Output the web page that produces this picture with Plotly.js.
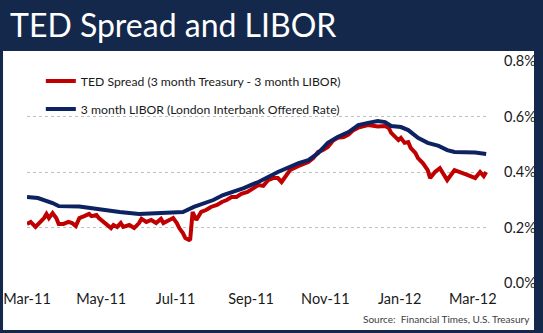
<!DOCTYPE html>
<html>
<head>
<meta charset="utf-8">
<script src="https://cdn.plot.ly/plotly-3.0.1.min.js"></script>
<style>html,body{margin:0;padding:0;background:#14284b;}#chart{width:543px;height:333px;}</style>
</head>
<body>
<div id="chart"></div>
<script>
const tedDates = ["2011-03-01","2011-03-04","2011-03-08","2011-03-12","2011-03-15","2011-03-17","2011-03-19","2011-03-22","2011-03-25","2011-03-27","2011-03-31","2011-04-04","2011-04-07","2011-04-10","2011-04-13","2011-04-17","2011-04-21","2011-04-23","2011-04-27","2011-04-29","2011-05-03","2011-05-06","2011-05-09","2011-05-11","2011-05-14","2011-05-17","2011-05-19","2011-05-24","2011-05-28","2011-06-01","2011-06-03","2011-06-07","2011-06-11","2011-06-15","2011-06-19","2011-06-21","2011-06-25","2011-06-29","2011-07-02","2011-07-04","2011-07-07","2011-07-09","2011-07-12","2011-07-13","2011-07-15","2011-07-18","2011-07-22","2011-07-26","2011-07-30","2011-08-04","2011-08-08","2011-08-12","2011-08-16","2011-08-20","2011-08-24","2011-08-29","2011-09-03","2011-09-07","2011-09-11","2011-09-15","2011-09-19","2011-09-23","2011-09-26","2011-09-30","2011-10-03","2011-10-10","2011-10-18","2011-10-22","2011-10-26","2011-10-30","2011-11-03","2011-11-07","2011-11-11","2011-11-16","2011-11-20","2011-11-24","2011-11-28","2011-12-06","2011-12-14","2011-12-20","2011-12-23","2011-12-25","2011-12-29","2011-12-31","2012-01-02","2012-01-05","2012-01-08","2012-01-10","2012-01-14","2012-01-16","2012-01-20","2012-01-24","2012-01-26","2012-01-30","2012-02-03","2012-02-06","2012-02-09","2012-02-15","2012-02-20","2012-02-26","2012-03-03","2012-03-07","2012-03-10","2012-03-12"];
const tedSpread = [0.213,0.22,0.202,0.22,0.234,0.249,0.234,0.252,0.234,0.213,0.213,0.22,0.216,0.205,0.234,0.241,0.249,0.241,0.245,0.234,0.22,0.205,0.198,0.209,0.202,0.216,0.202,0.209,0.198,0.216,0.231,0.22,0.227,0.216,0.231,0.216,0.227,0.234,0.216,0.198,0.18,0.162,0.155,0.158,0.256,0.227,0.256,0.263,0.274,0.281,0.292,0.299,0.31,0.31,0.321,0.328,0.342,0.353,0.35,0.371,0.378,0.378,0.364,0.39,0.407,0.422,0.436,0.45,0.472,0.479,0.49,0.512,0.523,0.526,0.535,0.551,0.56,0.569,0.564,0.566,0.559,0.541,0.526,0.515,0.523,0.505,0.508,0.487,0.468,0.45,0.432,0.407,0.378,0.4,0.414,0.39,0.371,0.407,0.4,0.389,0.378,0.4,0.385,0.4];
const liborDates = ["2011-03-01","2011-03-10","2011-03-22","2011-03-27","2011-04-13","2011-04-27","2011-05-16","2011-06-01","2011-06-21","2011-07-07","2011-07-16","2011-07-24","2011-08-01","2011-08-09","2011-08-17","2011-08-26","2011-09-03","2011-09-07","2011-09-23","2011-10-02","2011-10-10","2011-10-18","2011-10-26","2011-11-03","2011-11-11","2011-11-20","2011-11-28","2011-12-06","2011-12-14","2011-12-20","2011-12-25","2012-01-02","2012-01-08","2012-01-16","2012-01-24","2012-02-02","2012-02-09","2012-02-15","2012-03-03","2012-03-12"];
const libor = [0.31,0.306,0.288,0.277,0.276,0.267,0.256,0.249,0.252,0.256,0.274,0.288,0.299,0.317,0.328,0.342,0.357,0.364,0.4,0.418,0.432,0.443,0.468,0.505,0.526,0.544,0.569,0.577,0.584,0.58,0.566,0.562,0.551,0.523,0.505,0.494,0.479,0.472,0.47,0.465];
const tickDates = ["2011-03-01","2011-05-01","2011-07-01","2011-09-01","2011-11-01","2012-01-01","2012-03-01"];
const tickLabels = ["Mar-11","May-11","Jul-11","Sep-11","Nov-11","Jan-12","Mar-12"];
const yTicks = [0, 0.2, 0.4, 0.6, 0.8];
const yTickLabels = ["0.0%", "0.2%", "0.4%", "0.6%", "0.8%"];
const seriesNames = ["TED Spread (3 month Treasury - 3 month LIBOR)", "3 month LIBOR (London Interbank Offered Rate)"];

const F = "Lato, 'Open Sans', sans-serif";
const traces = [
  {x: tedDates, y: tedSpread, name: seriesNames[0], type: "scatter", mode: "lines",
   line: {color: "#c00000", width: 4}, legendgroup: "a"},
  {x: liborDates, y: libor, name: seriesNames[1], type: "scatter", mode: "lines",
   line: {color: "#0d2260", width: 4}, legendgroup: "b"}
];
const layout = {
  width: 543, height: 333,
  margin: {l: 27, r: 55, t: 61, b: 50},
  paper_bgcolor: "#14284b", plot_bgcolor: "#ffffff",
  font: {family: F, color: "#1a1a1a"},
  title: {text: "TED Spread and LIBOR", x: 10/543, xanchor: "left", xref: "container",
          y: 1 - 26/333, yanchor: "middle", yref: "container",
          font: {family: F, size: 32, color: "#ffffff"}},
  xaxis: {type: "date", range: ["2011-03-01", "2012-03-13 12:00"], tickvals: tickDates, ticktext: tickLabels,
          showgrid: false, zeroline: false, showline: false, ticks: "", ticklabelstandoff: 5,
          tickfont: {family: F, size: 14.5, color: "#1a1a1a"}},
  yaxis: {range: [0, 0.8], tickvals: yTicks, ticktext: yTickLabels, side: "right",
          showgrid: true, gridcolor: "#bfbfbf", gridwidth: 1, griddash: "dot", zeroline: false,
          showline: false, ticks: "", ticklabelstandoff: 15,
          tickfont: {family: F, size: 14.5, color: "#1a1a1a"}},
  showlegend: true,
  legend: {x: 0.03, y: 0.975, xanchor: "left", yanchor: "top", bgcolor: "rgba(0,0,0,0)",
           font: {family: F, size: 12.2, color: "#1a1a1a"}, traceorder: "grouped", tracegroupgap: 9},
  shapes: [{type: "rect", xref: "paper", yref: "paper", x0: -0.052, x1: 1.0998, y0: -0.2117, y1: 1.045,
            fillcolor: "#ffffff", line: {width: 0}, layer: "below"}],
  annotations: [{text: "Source:  Financial Times, U.S. Treasury", xref: "paper", yref: "paper",
                 x: (532-27)/461, y: (283-319)/222, xanchor: "right", yanchor: "middle", showarrow: false,
                 font: {family: F, size: 10, color: "#404040"}}]
};
Plotly.newPlot("chart", traces, layout, {displayModeBar: false, staticPlot: true});
</script>
</body>
</html>
